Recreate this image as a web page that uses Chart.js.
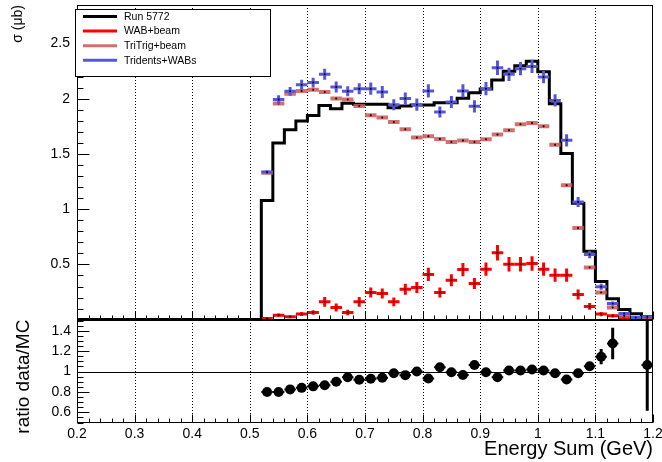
<!DOCTYPE html>
<html>
<head>
<meta charset="utf-8">
<script src="https://cdn.jsdelivr.net/npm/chart.js@4.4.1/dist/chart.umd.min.js"></script>
<style>
html,body{margin:0;padding:0;background:#ffffff;}
#wrap{position:relative;width:662px;height:462px;}
</style>
</head>
<body>
<div id="wrap"><canvas id="c" width="662" height="462"></canvas></div>
<script>
// ---------------- data ----------------
const binCenters = [0.53,0.55,0.57,0.59,0.61,0.63,0.65,0.67,0.69,0.71,0.73,0.75,0.77,0.79,0.81,0.83,0.85,
                    0.87,0.89,0.91,0.93,0.95,0.97,0.99,1.01,1.03,1.05,1.07,1.09,1.11,1.13,1.15,1.17,1.19];
const binHalfWidth = 0.01;

const run5772 = [1.08,1.60,1.72,1.80,1.85,1.94,1.91,1.96,1.95,1.95,1.95,1.92,1.935,1.945,1.945,1.965,1.965,
                 2.005,2.055,2.09,2.17,2.25,2.30,2.34,2.245,1.955,1.505,1.055,0.62,0.345,0.19,0.092,0.053,0.028];

const wabBeam = [0.01,0.04,0.025,0.05,0.065,0.161,0.11,0.065,0.161,0.246,0.237,0.161,0.276,0.291,0.409,0.246,0.357,
                 0.454,0.328,0.457,0.605,0.502,0.502,0.508,0.457,0.403,0.403,0.228,0.12,0.05,0.034,0.02,0.012,0.008];
const wabBeamErr = [0.008,0.015,0.012,0.018,0.02,0.045,0.036,0.025,0.045,0.045,0.045,0.04,0.05,0.05,0.06,0.045,0.055,
                    0.06,0.05,0.06,0.07,0.065,0.065,0.065,0.06,0.06,0.06,0.045,0.03,0.02,0.015,0.01,0.008,0.006];

const triTrigBeam = [1.33,1.957,2.047,2.071,2.083,2.062,2.002,1.995,1.935,1.851,1.83,1.79,1.724,1.649,1.661,1.636,1.609,
                     1.622,1.609,1.633,1.676,1.715,1.769,1.781,1.751,1.585,1.217,0.831,0.472,0.246,0.11,0.035,0.012,0.015];
const triTrigBeamErr = [0.012,0.012,0.012,0.012,0.012,0.012,0.012,0.012,0.012,0.012,0.012,0.012,0.012,0.012,0.012,0.012,0.012,
                        0.012,0.012,0.012,0.012,0.012,0.012,0.012,0.012,0.012,0.012,0.01,0.009,0.008,0.006,0.005,0.004,0.004];

const tridentsWabs = [1.338,1.993,2.068,2.128,2.147,2.222,2.107,2.068,2.092,2.092,2.062,1.947,2.002,1.947,2.071,1.881,1.971,
                      2.071,1.932,2.092,2.282,2.222,2.273,2.294,2.197,1.986,1.624,1.065,0.59,0.297,0.145,0.056,0.02,0.026];
const tridentsWabsErr = [0.012,0.04,0.04,0.045,0.045,0.05,0.05,0.045,0.05,0.055,0.055,0.05,0.055,0.055,0.06,0.05,0.055,
                         0.06,0.055,0.06,0.065,0.06,0.06,0.06,0.055,0.055,0.055,0.045,0.035,0.027,0.02,0.014,0.01,0.01];

const ratioDataMC = [0.80,0.80,0.825,0.84,0.855,0.865,0.90,0.945,0.92,0.93,0.94,0.984,0.965,1.0,0.932,1.042,0.993,
                     0.967,1.065,0.993,0.945,1.01,1.01,1.02,1.01,0.984,0.922,0.984,1.052,1.146,1.276,null,null,1.065];
const ratioErr = [0.012,0.012,0.012,0.012,0.012,0.012,0.013,0.013,0.013,0.013,0.013,0.014,0.014,0.014,0.014,0.015,0.014,
                  0.014,0.015,0.014,0.014,0.014,0.014,0.014,0.014,0.015,0.016,0.02,0.035,0.075,0.155,null,null,0.45];

const xRange = [0.2, 1.2];
const yTopRange = [0, 2.85];
const yRatioRange = [0.5, 1.51];

// ---------------- helpers ----------------
const FONT = "'Liberation Sans', Arial, Helvetica, sans-serif";
const fmt = v => String(Math.round(v * 100) / 100);

function pointsWithErr(vals, errs) {
  const out = [];
  binCenters.forEach((c, i) => {
    if (vals[i] === null || vals[i] === undefined) return;
    out.push({x: c, y: vals[i], e: errs[i]});
  });
  return out;
}

const histPoints = [{x: xRange[0], y: 0}];
binCenters.forEach((c, i) => histPoints.push({x: c - binHalfWidth, y: run5772[i]}));
histPoints.push({x: binCenters[binCenters.length - 1] + binHalfWidth, y: run5772[run5772.length - 1]});
histPoints.push({x: binCenters[binCenters.length - 1] + binHalfWidth, y: 0});

const COL_BLACK = '#000000';
const COL_RED = '#ff0000';
const COL_PINK = 'rgba(204,86,86,0.85)';
const COL_BLUE = '#5656dc';

function line(ctx, x1, y1, x2, y2) {
  ctx.beginPath(); ctx.moveTo(x1, y1); ctx.lineTo(x2, y2); ctx.stroke();
}

// ---------------- plugin ----------------
const rootStyle = {
  id: 'rootStyle',
  beforeDatasetsDraw(chart) {
    const {ctx, chartArea} = chart;
    const xs = chart.scales.x, y2 = chart.scales.y2;
    ctx.save();
    ctx.strokeStyle = '#000';
    ctx.lineWidth = 1;
    ctx.setLineDash([1, 2]);
    xs.ticks.forEach(t => {
      if (t.value <= xs.min + 1e-9 || t.value >= xs.max - 1e-9) return;
      const px = Math.round(xs.getPixelForValue(t.value)) + 0.5;
      line(ctx, px, chartArea.top, px, chartArea.bottom);
    });
    ctx.setLineDash([]);
    const py = Math.round(y2.getPixelForValue(1)) + 0.5;
    line(ctx, xs.left, py, xs.right, py);
    ctx.restore();
  },
  beforeDatasetDraw(chart, args) {
    const ds = chart.data.datasets[args.index];
    if (!ds.errorBars) return;
    const {ctx} = chart;
    const xs = chart.scales.x, ys = chart.scales[ds.yAxisID];
    const eb = ds.errorBars;
    ctx.save();
    ctx.beginPath();
    const top = ds.yAxisID === 'y' ? ys.top : ys.top - 3;
    ctx.rect(xs.left, top, xs.right - xs.left, ys.bottom - top);
    ctx.clip();
    ctx.strokeStyle = eb.color;
    ctx.lineCap = 'butt';
    ds.data.forEach(p => {
      const cx = xs.getPixelForValue(p.x), cy = ys.getPixelForValue(p.y);
      ctx.lineWidth = eb.hWidth;
      line(ctx, xs.getPixelForValue(p.x - binHalfWidth), cy, xs.getPixelForValue(p.x + binHalfWidth), cy);
      ctx.lineWidth = eb.vWidth;
      line(ctx, cx, ys.getPixelForValue(p.y - p.e), cx, ys.getPixelForValue(p.y + p.e));
    });
    ctx.restore();
  },
  afterDatasetsDraw(chart) {
    const {ctx} = chart;
    const xs = chart.scales.x, y = chart.scales.y, y2 = chart.scales.y2;
    ctx.save();
    ctx.strokeStyle = '#000';
    ctx.lineWidth = 1;
    const L = Math.round(xs.left) + 0.5, R = Math.round(xs.right) - 0.5;
    [y, y2].forEach(s => {
      const T = Math.round(s.top) + 0.5, B = Math.round(s.bottom) - 0.5;
      ctx.strokeRect(L, T, R - L, B - T);
    });
    const drawPad = (s, yMinorStep, yMaj, yMin, xMaj, xMin) => {
      const majors = s.ticks.map(t => t.value);
      for (let k = Math.ceil(s.min / yMinorStep - 1e-6); k * yMinorStep <= s.max + 1e-9; k++) {
        const v = k * yMinorStep;
        const isMaj = majors.some(m => Math.abs(m - v) < 1e-6);
        const py = Math.round(s.getPixelForValue(v)) + 0.5;
        line(ctx, L, py, L + (isMaj ? yMaj : yMin), py);
      }
      const xmajors = xs.ticks.map(t => t.value);
      const B = Math.round(s.bottom) - 0.5;
      for (let k = Math.round(xs.min / 0.02); k * 0.02 <= xs.max + 1e-9; k++) {
        const v = k * 0.02;
        const isMaj = xmajors.some(m => Math.abs(m - v) < 1e-6);
        const px = Math.round(xs.getPixelForValue(v)) + 0.5;
        line(ctx, px, B, px, B - (isMaj ? xMaj : xMin));
      }
    };
    drawPad(y, 0.1, 12, 6, 8, 4);
    drawPad(y2, 0.05, 12, 6, 8, 4);
    ctx.restore();
  },
  afterDraw(chart) {
    const {ctx} = chart;
    const entries = [0, 1, 2, 3].map(i => chart.data.datasets.find(d => d.legendIndex === i));
    ctx.save();
    const bx = 75.5, by = 9.5, bw = 195, bh = 67;
    ctx.fillStyle = '#fff';
    ctx.fillRect(bx, by, bw, bh);
    ctx.strokeStyle = '#000';
    ctx.lineWidth = 1;
    ctx.strokeRect(bx, by, bw, bh);
    ctx.font = '10.5px ' + FONT;
    ctx.textBaseline = 'middle';
    ctx.textAlign = 'left';
    entries.forEach((d, i) => {
      const ry = 16.5 + i * 14.6;
      ctx.strokeStyle = d.legendColor;
      ctx.lineWidth = 3;
      line(ctx, 83, ry, 117, ry);
      ctx.fillStyle = '#000';
      ctx.fillText(d.label, 124, ry + 0.5);
    });
    ctx.restore();
  }
};

// ---------------- chart ----------------
const tickFont = {family: FONT, size: 14};

new Chart(document.getElementById('c'), {
  data: {
    datasets: [
      {
        type: 'scatter', label: 'ratio', yAxisID: 'y2', order: 0,
        data: pointsWithErr(ratioDataMC, ratioErr),
        pointRadius: 5, pointStyle: 'circle', pointBackgroundColor: '#000', pointBorderColor: '#000', pointBorderWidth: 0,
        showLine: false,
        errorBars: {color: '#000', hWidth: 2, vWidth: 3}
      },
      {
        type: 'scatter', label: 'Tridents+WABs', yAxisID: 'y', order: 1, legendIndex: 3, legendColor: COL_BLUE,
        data: pointsWithErr(tridentsWabs, tridentsWabsErr),
        pointRadius: 1, pointBackgroundColor: '#000', pointBorderWidth: 0, showLine: false,
        errorBars: {color: COL_BLUE, hWidth: 3, vWidth: 3}
      },
      {
        type: 'scatter', label: 'TriTrig+beam', yAxisID: 'y', order: 2, legendIndex: 2, legendColor: COL_PINK,
        data: pointsWithErr(triTrigBeam, triTrigBeamErr),
        pointRadius: 1, pointBackgroundColor: '#000', pointBorderWidth: 0, showLine: false,
        errorBars: {color: COL_PINK, hWidth: 4, vWidth: 2}
      },
      {
        type: 'scatter', label: 'WAB+beam', yAxisID: 'y', order: 3, legendIndex: 1, legendColor: COL_RED,
        data: pointsWithErr(wabBeam, wabBeamErr),
        pointRadius: 1, pointBackgroundColor: '#000', pointBorderWidth: 0, showLine: false,
        errorBars: {color: COL_RED, hWidth: 3, vWidth: 3}
      },
      {
        type: 'line', label: 'Run 5772', yAxisID: 'y', order: 4, legendIndex: 0, legendColor: COL_BLACK,
        data: histPoints, stepped: true, borderColor: COL_BLACK, borderWidth: 3,
        pointRadius: 0, fill: false, tension: 0
      }
    ]
  },
  options: {
    responsive: false,
    animation: false,
    devicePixelRatio: 1,
    events: [],
    layout: {padding: {left: 0, right: 9, top: 5, bottom: 0}},
    plugins: {legend: {display: false}, tooltip: {enabled: false}, title: {display: false}},
    scales: {
      x: {
        type: 'linear', position: 'bottom', min: xRange[0], max: xRange[1],
        grid: {display: false, drawTicks: false}, border: {display: false},
        ticks: {stepSize: 0.1, includeBounds: false, autoSkip: false, maxRotation: 0, padding: 3,
                color: '#000', font: tickFont, callback: v => fmt(v)},
        title: {display: true, text: 'Energy Sum (GeV)', align: 'end', color: '#000',
                font: {family: FONT, size: 20}, padding: {top: 0, bottom: 1}},
        afterFit: s => { s.height = 39.5; s.paddingLeft = 0; s.paddingRight = 0; }
      },
      y2: {
        type: 'linear', position: 'left', stack: 'pads', stackWeight: 103,
        min: yRatioRange[0], max: yRatioRange[1],
        grid: {display: false, drawTicks: false}, border: {display: false},
        ticks: {stepSize: 0.2, includeBounds: false, autoSkip: false, padding: 6, color: '#000', font: tickFont,
                callback: v => fmt(v)},
        title: {display: true, text: 'ratio data/MC', align: 'end', color: '#000',
                font: {family: FONT, size: 19}, padding: {top: 12, bottom: 0}},
        afterFit: s => { s.width = 77; s.paddingTop = 0; s.paddingBottom = 0; }
      },
      y: {
        type: 'linear', position: 'left', stack: 'pads', stackWeight: 315,
        min: yTopRange[0], max: yTopRange[1],
        grid: {display: false, drawTicks: false}, border: {display: false},
        ticks: {stepSize: 0.5, includeBounds: false, autoSkip: false, padding: 7, color: '#000', font: tickFont,
                callback: v => (v === 0 ? '' : fmt(v))},
        title: {display: true, text: 'σ (μb)', align: 'end', color: '#000',
                font: {family: FONT, size: 14}, padding: {top: 10, bottom: 0}},
        afterFit: s => { s.width = 77; s.paddingTop = 0; s.paddingBottom = 0; }
      }
    }
  },
  plugins: [rootStyle]
});
</script>
</body>
</html>
